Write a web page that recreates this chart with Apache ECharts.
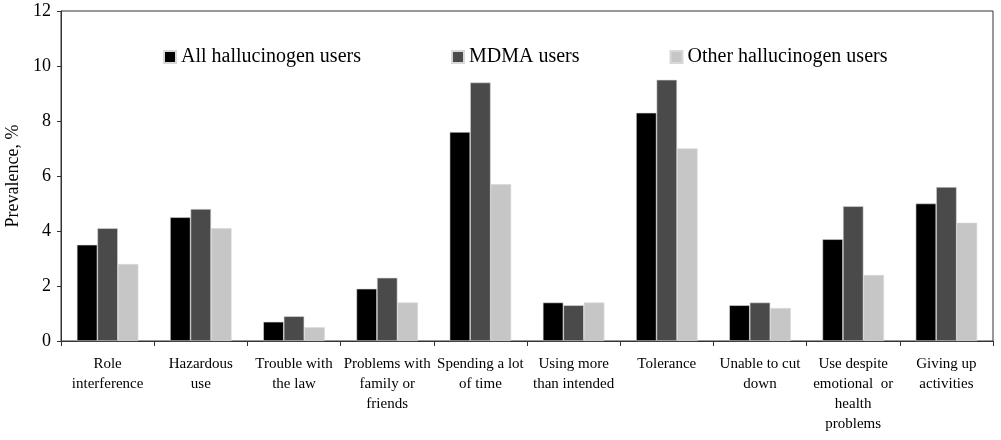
<!DOCTYPE html>
<html>
<head>
<meta charset="utf-8">
<script src="https://cdn.jsdelivr.net/npm/echarts@6/dist/echarts.min.js"></script>
<style>html,body{margin:0;padding:0;background:#fff}#c{width:1001px;height:440px}</style>
</head>
<body>
<div id="c"></div>
<script>
const categories = ["Role\ninterference", "Hazardous\nuse", "Trouble with\nthe law", "Problems with\nfamily or\nfriends", "Spending a lot\nof time", "Using more\nthan intended", "Tolerance", "Unable to cut\ndown", "Use despite\nemotional  or\nhealth\nproblems", "Giving up\nactivities"];
const seriesNames = ["All hallucinogen users", "MDMA users", "Other hallucinogen users"];
const allUsers = [3.5, 4.5, 0.7, 1.9, 7.6, 1.4, 8.3, 1.3, 3.7, 5.0];
const mdmaUsers = [4.1, 4.8, 0.9, 2.3, 9.4, 1.3, 9.5, 1.4, 4.9, 5.6];
const otherUsers = [2.8, 4.1, 0.5, 1.4, 5.7, 1.4, 7.0, 1.2, 2.4, 4.3];
const colors = ["#000000", "#4a4a4a", "#c6c6c6"];
const FONT = "Liberation Serif";

const chart = echarts.init(document.getElementById('c'), null, {renderer: 'canvas'});
const dataSets = [allUsers, mdmaUsers, otherUsers];
chart.setOption({
  animation: false,
  backgroundColor: '#fff',
  grid: {left: 61, right: 8, top: 11, bottom: 99, containLabel: false, outerBoundsMode: 'none', show: true, borderColor: '#333', borderWidth: 1, backgroundColor: 'transparent'},
  legend: {
    left: 158, top: 42, itemGap: 90, itemWidth: 12, itemHeight: 12, icon: 'rect',
    textStyle: {fontFamily: FONT, fontSize: 20, color: '#000'},
    data: seriesNames
  },
  xAxis: {
    type: 'category', data: categories,
    axisLine: {lineStyle: {color: '#333', width: 1}},
    axisTick: {show: true, length: 5, lineStyle: {color: '#333'}},
    axisLabel: {interval: 0, margin: 13, fontFamily: FONT, fontSize: 15, lineHeight: 20, color: '#000', align: 'center'}
  },
  yAxis: {
    type: 'value', min: 0, max: 12, interval: 2,
    name: 'Prevalence, %', nameLocation: 'middle', nameGap: 33,
    nameTextStyle: {fontFamily: FONT, fontSize: 18, color: '#000'},
    axisLine: {show: true, lineStyle: {color: '#333', width: 1}},
    axisTick: {show: true, length: 4, lineStyle: {color: '#333'}},
    splitLine: {show: false},
    axisLabel: {margin: 10, fontFamily: FONT, fontSize: 18, color: '#000'}
  },
  series: dataSets.map((d, i) => ({
    name: seriesNames[i], type: 'bar', data: d,
    barGap: '0%', barCategoryGap: '34%',
    itemStyle: {color: colors[i], borderColor: '#d8d8d8', borderWidth: 0.6}
  }))
});
</script>
</body>
</html>
